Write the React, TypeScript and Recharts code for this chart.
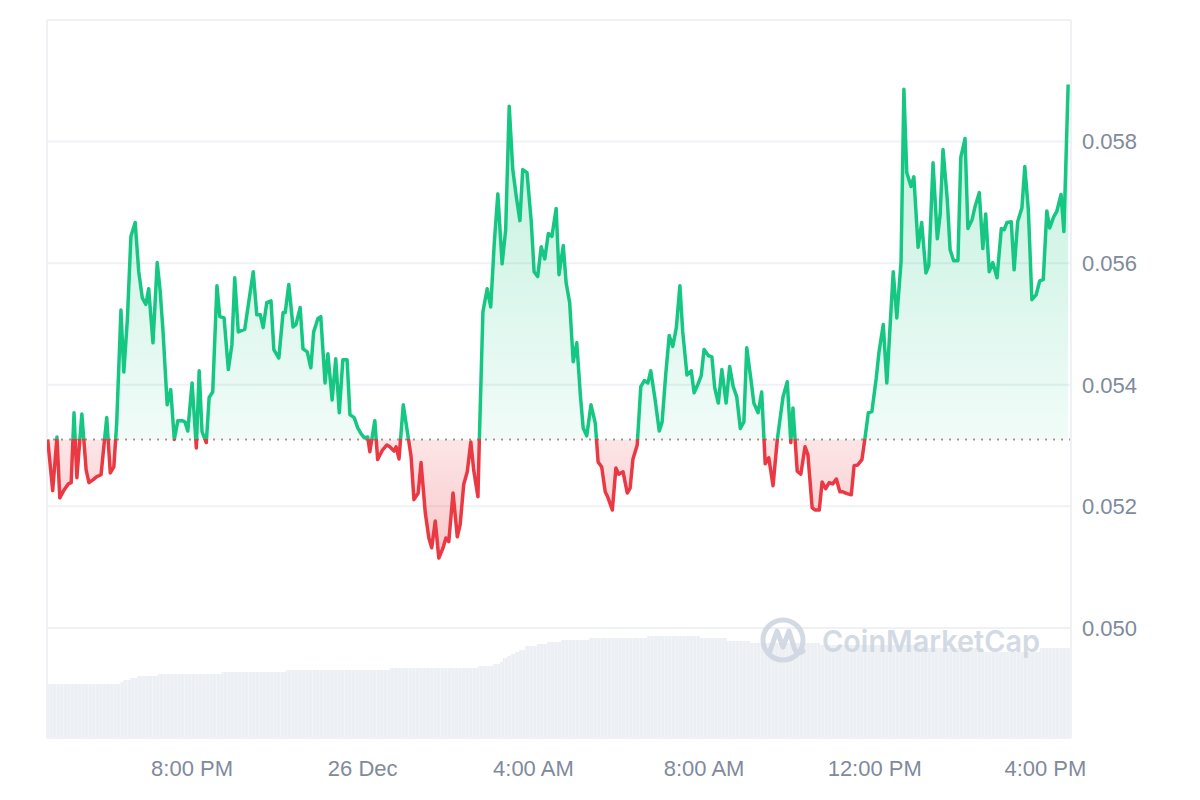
import React from "react";
import {
  ComposedChart,
  Area,
  Line,
  XAxis,
  YAxis,
  CartesianGrid,
  ReferenceLine,
} from "recharts";

const GREEN = "#16C784";
const RED = "#EA3943";
const GRID = "#EFF1F4";
const MUTED = "#808A9D";
const FONT = "'Liberation Sans', Arial, sans-serif";

// x values are minutes since 16:36 on 25 Dec
const tickMinutes = [204, 444, 684, 924, 1164, 1404];
const tickLabels = ["8:00 PM", "26 Dec", "4:00 AM", "8:00 AM", "12:00 PM", "4:00 PM"];
const priceTicks = [0.05, 0.052, 0.054, 0.056, 0.058, 0.06];
const openPrice = 0.0531;

// [minute, price]
const pricePoints: [number, number][] = [
  [1, 0.0531], [8, 0.05226], [14, 0.05314], [18, 0.05214], [24, 0.05227], [30, 0.05237], [34, 0.05239],
  [38, 0.05354], [42, 0.05247], [49, 0.05352], [55, 0.0526], [59, 0.05239], [65, 0.05244], [70, 0.05249],
  [76, 0.05252], [84, 0.05346], [89, 0.05255], [94, 0.05265], [98, 0.05337], [104, 0.05523], [108, 0.05421],
  [113, 0.05507], [118, 0.05644], [124, 0.05667], [129, 0.05586], [134, 0.05543], [139, 0.05532], [143, 0.05558],
  [149, 0.05469], [155, 0.05601], [159, 0.05556], [163, 0.05491], [169, 0.05367], [174, 0.05392], [179, 0.0531],
  [184, 0.05341], [190, 0.05341], [194, 0.05339], [198, 0.05324], [204, 0.05403], [210, 0.05296], [214, 0.05423],
  [218, 0.05323], [224, 0.05305], [228, 0.05379], [233, 0.05388], [239, 0.05563], [243, 0.05512], [249, 0.0551],
  [255, 0.05425], [260, 0.05466], [264, 0.05576], [269, 0.05487], [278, 0.05491], [290, 0.05586], [295, 0.05515],
  [300, 0.05515], [304, 0.05494], [309, 0.05535], [315, 0.05538], [319, 0.05458], [326, 0.05444], [332, 0.05519],
  [335, 0.05519], [340, 0.05565], [346, 0.05495], [350, 0.05499], [356, 0.05527], [360, 0.05459], [366, 0.05454],
  [371, 0.05428], [375, 0.05487], [381, 0.05509], [385, 0.05512], [391, 0.05403], [395, 0.05451], [401, 0.05375],
  [406, 0.05443], [411, 0.05354], [416, 0.05441], [422, 0.05441], [426, 0.05351], [432, 0.05346], [437, 0.05329],
  [442, 0.05319], [446, 0.05313], [451, 0.05314], [454, 0.0529], [461, 0.05341], [465, 0.05277], [472, 0.05293],
  [478, 0.05301], [482, 0.05298], [488, 0.05291], [491, 0.05298], [495, 0.05278], [501, 0.05367], [508, 0.05313],
  [512, 0.05282], [516, 0.05211], [522, 0.05222], [526, 0.05272], [532, 0.05189], [537, 0.05148], [541, 0.05132],
  [546, 0.05176], [551, 0.05115], [557, 0.05132], [561, 0.05148], [565, 0.05142], [571, 0.05222], [577, 0.0515],
  [581, 0.0517], [586, 0.05236], [591, 0.05257], [596, 0.05306], [600, 0.0526], [606, 0.05216], [608, 0.0531],
  [613, 0.0552], [619, 0.05558], [624, 0.05528], [629, 0.05634], [634, 0.05714], [640, 0.05599], [645, 0.05655],
  [650, 0.05858], [655, 0.05754], [660, 0.05709], [665, 0.0567], [669, 0.05754], [675, 0.05749], [681, 0.05668],
  [685, 0.05586], [690, 0.05578], [695, 0.05627], [700, 0.05607], [705, 0.05649], [710, 0.05644], [716, 0.0569],
  [720, 0.05581], [726, 0.05629], [730, 0.05568], [735, 0.05535], [740, 0.05438], [745, 0.05469], [750, 0.05384],
  [754, 0.05329], [759, 0.05316], [765, 0.05367], [771, 0.05337], [775, 0.05273], [780, 0.05265], [785, 0.05224],
  [789, 0.05214], [795, 0.05194], [800, 0.05263], [804, 0.05253], [810, 0.05257], [816, 0.05222], [820, 0.0523],
  [824, 0.05278], [830, 0.05301], [835, 0.05397], [840, 0.05407], [845, 0.05403], [849, 0.05423], [855, 0.05377],
  [861, 0.05324], [865, 0.05339], [870, 0.05416], [875, 0.05481], [880, 0.05463], [885, 0.05494], [890, 0.05563],
  [894, 0.05487], [900, 0.05416], [906, 0.05423], [910, 0.05387], [915, 0.054], [920, 0.05415], [924, 0.05458],
  [930, 0.05448], [935, 0.05446], [939, 0.05395], [944, 0.0537], [949, 0.05425], [955, 0.0537], [960, 0.0543],
  [965, 0.05397], [970, 0.0538], [975, 0.05328], [980, 0.05339], [984, 0.05461], [990, 0.05408], [994, 0.0537],
  [1000, 0.05354], [1005, 0.05388], [1010, 0.0527], [1015, 0.0528], [1021, 0.05234], [1027, 0.0531], [1035, 0.0538],
  [1041, 0.05405], [1046, 0.05305], [1049, 0.05362], [1055, 0.05258], [1060, 0.05253], [1066, 0.05298], [1070, 0.05285],
  [1076, 0.05198], [1080, 0.05194], [1086, 0.05194], [1090, 0.0524], [1095, 0.05229], [1100, 0.05239], [1105, 0.05237],
  [1110, 0.05245], [1115, 0.05224], [1119, 0.05224], [1125, 0.05221], [1131, 0.05219], [1135, 0.05267], [1140, 0.05268],
  [1146, 0.05277], [1150, 0.0531], [1155, 0.05354], [1160, 0.05356], [1166, 0.0541], [1170, 0.05454], [1176, 0.05499],
  [1181, 0.05403], [1190, 0.05586], [1195, 0.0551], [1201, 0.05602], [1205, 0.05886], [1209, 0.05749], [1215, 0.05726],
  [1219, 0.05742], [1225, 0.05626], [1230, 0.05667], [1236, 0.05584], [1240, 0.05596], [1246, 0.05765], [1252, 0.0564],
  [1256, 0.0568], [1260, 0.05787], [1266, 0.05705], [1270, 0.05622], [1275, 0.05604], [1281, 0.05604], [1285, 0.05774],
  [1291, 0.05805], [1295, 0.05657], [1301, 0.05672], [1305, 0.05693], [1311, 0.05716], [1316, 0.05624], [1320, 0.05681],
  [1325, 0.05586], [1330, 0.05601], [1336, 0.05576], [1342, 0.05657], [1346, 0.05655], [1350, 0.05667], [1356, 0.05668],
  [1360, 0.05589], [1365, 0.05668], [1371, 0.05691], [1375, 0.05759], [1380, 0.05688], [1385, 0.0554], [1391, 0.05548],
  [1396, 0.05571], [1401, 0.05573], [1406, 0.05686], [1410, 0.05658], [1416, 0.05677], [1420, 0.05685], [1426, 0.05713],
  [1430, 0.05652], [1436, 0.05894],
];

// [minute, volume in millions] - step values
const volumeSteps: [number, number][] = [
  [0, 2.71], [103, 2.81], [107, 2.91], [117, 3.01], [127, 3.11], [156, 3.21], [246, 3.31], [336, 3.41],
  [482, 3.51], [606, 3.61], [627, 3.71], [637, 3.81], [641, 4.01], [647, 4.11], [652, 4.21], [658, 4.31],
  [664, 4.41], [672, 4.61], [689, 4.71], [703, 4.81], [723, 4.91], [762, 5.01], [844, 5.12], [918, 5.01],
  [956, 4.86], [989, 4.76], [1087, 4.66], [1232, 4.51], [1316, 4.31], [1396, 4.51], [1440, 4.51],
];

const priceData = pricePoints.map(([t, price]) => ({ t, price }));
const volumeData = volumeSteps.map(([t, volume]) => ({ t, volume }));

const prices = pricePoints.map((p) => p[1]);
const hi = Math.max(...prices);
const lo = Math.min(...prices);
const split = (hi - openPrice) / (hi - lo);

function Watermark() {
  return (
    <svg
      width={1200}
      height={800}
      style={{ position: "absolute", left: 0, top: 0, pointerEvents: "none" }}
    >
      <g opacity={0.85}>
        <circle cx={783} cy={640} r={20} fill="none" stroke="#CDD4E0" strokeWidth={5} />
        <path
          d="M770 651 L777 631 L783 647 L789 631 L795 650 Q798 655 803 651"
          fill="none"
          stroke="#CDD4E0"
          strokeWidth={5}
          strokeLinejoin="round"
          strokeLinecap="round"
        />
        <text
          x={822}
          y={652}
          fontFamily="Inter, 'Noto Sans', sans-serif"
          fontWeight={600}
          fontSize={30}
          textLength={218}
          lengthAdjust="spacingAndGlyphs"
          fill="#CDD4E0"
        >
          CoinMarketCap
        </text>
      </g>
    </svg>
  );
}

export default function App() {
  return (
    <div
      style={{
        position: "absolute",
        left: 0,
        top: 0,
        width: 1200,
        height: 800,
        background: "#FFFFFF",
      }}
    >
      <ComposedChart
        width={1200}
        height={800}
        margin={{ top: 20, right: 29, bottom: 22, left: 47 }}
      >
        <defs>
          <linearGradient id="priceStroke" x1="0" y1="0" x2="0" y2="1">
            <stop offset={0} stopColor={GREEN} />
            <stop offset={split} stopColor={GREEN} />
            <stop offset={split} stopColor={RED} />
            <stop offset={1} stopColor={RED} />
          </linearGradient>
          <linearGradient id="priceFill" x1="0" y1="0" x2="0" y2="1">
            <stop offset={0} stopColor={GREEN} stopOpacity={0.28} />
            <stop offset={split} stopColor={GREEN} stopOpacity={0.06} />
            <stop offset={split} stopColor={RED} stopOpacity={0.13} />
            <stop offset={1} stopColor={RED} stopOpacity={0.28} />
          </linearGradient>
          <pattern id="volBars" width={3.556} height={10} patternUnits="userSpaceOnUse">
            <rect width={3.556} height={10} fill="#F4F6F8" />
            <rect width={2.8} height={10} fill="#ECEFF3" />
          </pattern>
        </defs>
        <CartesianGrid yAxisId="price" vertical={false} stroke={GRID} strokeWidth={2} />
        <XAxis
          type="number"
          dataKey="t"
          domain={[0, 1440]}
          ticks={tickMinutes}
          tickFormatter={(v: number) => tickLabels[tickMinutes.indexOf(v)] ?? ""}
          allowDataOverflow
          height={40}
          axisLine={{ stroke: GRID, strokeWidth: 2 }}
          tickLine={false}
          tickMargin={16}
          tick={{ fill: MUTED, fontSize: 22, fontFamily: FONT }}
        />
        <YAxis
          yAxisId="price"
          orientation="right"
          domain={[0.04819, 0.06]}
          ticks={priceTicks}
          allowDataOverflow
          width={100}
          axisLine={{ stroke: GRID, strokeWidth: 2 }}
          tickLine={false}
          tickMargin={5}
          tickFormatter={(v: number) => (v >= 0.06 ? "" : v.toFixed(3))}
          tick={{ fill: MUTED, fontSize: 22, fontFamily: FONT, textAnchor: "start" }}
        />
        <YAxis yAxisId="vol" hide domain={[0, 36]} />
        <ReferenceLine yAxisId="price" x={0} stroke={GRID} strokeWidth={2} />
        <Area
          yAxisId="vol"
          data={volumeData}
          dataKey="volume"
          type="stepAfter"
          stroke="none"
          fill="url(#volBars)"
          fillOpacity={1}
          baseValue={0}
          isAnimationActive={false}
        />
        <Area
          yAxisId="price"
          data={priceData}
          dataKey="price"
          type="linear"
          baseValue={openPrice}
          stroke="none"
          fill="url(#priceFill)"
          fillOpacity={1}
          isAnimationActive={false}
        />
        <ReferenceLine
          yAxisId="price"
          y={openPrice}
          stroke="#9A9A9A"
          strokeWidth={2}
          strokeDasharray="2 6"
        />
        <Line
          yAxisId="price"
          data={priceData}
          dataKey="price"
          type="linear"
          stroke="url(#priceStroke)"
          strokeWidth={3.5}
          strokeLinejoin="round"
          dot={false}
          activeDot={false}
          isAnimationActive={false}
        />
      </ComposedChart>
      <Watermark />
    </div>
  );
}
